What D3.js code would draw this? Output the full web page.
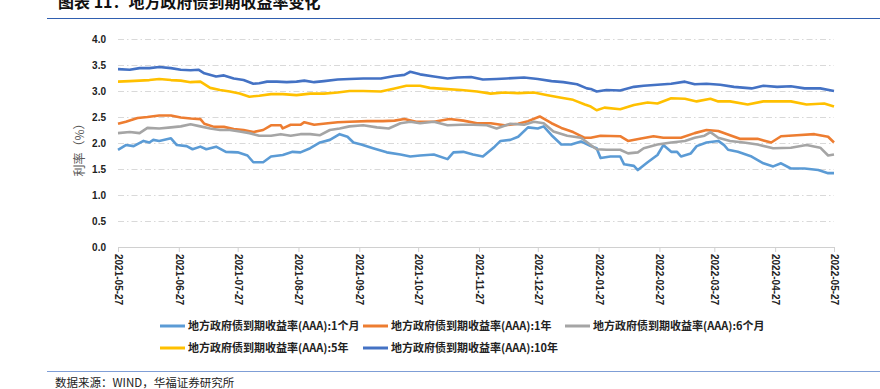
<!DOCTYPE html>
<html>
<head>
<meta charset="utf-8">
<script src="https://cdn.jsdelivr.net/npm/d3@7"></script>
<style>
body { margin: 0; background: #fff; }
svg { display: block; }
</style>
</head>
<body>
<svg id="chart"></svg>
<script>
const width = 880;
const height = 389;

// days counted from 2021-05-27, values in %
const startDate = new Date(2021, 4, 27);
const tickLabels = ['2021-05-27', '2021-06-27', '2021-07-27', '2021-08-27', '2021-09-27', '2021-10-27', '2021-11-27',
	'2021-12-27', '2022-01-27', '2022-02-27', '2022-03-27', '2022-04-27', '2022-05-27'];
const yTicks = [0, 0.5, 1, 1.5, 2, 2.5, 3, 3.5, 4];

const seriesNames = [
	'地方政府债到期收益率(AAA):1个月',
	'地方政府债到期收益率(AAA):1年',
	'地方政府债到期收益率(AAA):6个月',
	'地方政府债到期收益率(AAA):5年',
	'地方政府债到期收益率(AAA):10年'
];
const seriesColors = ['#5b9bd5', '#ed7d31', '#a5a5a5', '#ffc000', '#4472c4'];

const days1M = [0, 4, 8, 13, 16, 18, 21, 27, 30, 35, 38, 42, 45, 50, 55, 61, 66, 69, 74, 78, 84, 89, 93, 98, 103, 108, 113, 117,
	120, 124, 130, 137, 144, 149, 154, 161, 168, 171, 176, 181, 186, 192, 195, 200, 204, 209, 214, 217, 221, 226, 231, 236, 241,
	244, 246, 251, 256, 258, 263, 265, 270, 275, 278, 282, 285, 287, 292, 295, 300, 306, 309, 311, 316, 323, 329, 334, 338, 343,
	350, 357, 362, 365];
const vals1M = [1.87, 1.96, 1.94, 2.04, 2.01, 2.06, 2.04, 2.09, 1.96, 1.94, 1.88, 1.93, 1.88, 1.93, 1.83, 1.82, 1.76, 1.63, 1.63,
	1.74, 1.77, 1.83, 1.82, 1.90, 2.01, 2.06, 2.17, 2.12,
	2.01, 1.97, 1.90, 1.82, 1.78, 1.74, 1.76, 1.78, 1.69, 1.82, 1.83, 1.78, 1.74, 1.93, 2.04, 2.06, 2.12, 2.30, 2.28, 2.32,
	2.15, 1.97, 1.97, 2.03, 1.94,
	1.90, 1.71, 1.74, 1.74, 1.59, 1.56, 1.48, 1.63, 1.77, 1.96, 1.83, 1.83, 1.74, 1.80, 1.94, 2.01, 2.04, 1.96, 1.87, 1.83, 1.74,
	1.61, 1.55, 1.61, 1.51, 1.51, 1.48, 1.42, 1.42];

const days1Y = [0, 4, 10, 15, 21, 27, 32, 37, 42, 44, 49, 54, 59, 64, 69, 74, 78, 83, 84, 88, 93, 95, 100, 107, 112, 118,
	127, 135, 141, 146, 152, 161, 169, 176, 183, 190, 197, 204, 209, 215, 221, 226, 232, 238,
	241, 246, 256, 260, 266, 273, 278, 287, 294, 300, 306, 312, 317, 326, 333, 338, 346, 355, 362, 365];
const vals1Y = [2.37, 2.41, 2.48, 2.50, 2.53, 2.53, 2.49, 2.47, 2.46, 2.37, 2.31, 2.31, 2.27, 2.25, 2.21, 2.25, 2.34, 2.34, 2.28,
	2.35, 2.35, 2.40, 2.35, 2.38, 2.40, 2.41,
	2.42, 2.42, 2.43, 2.46, 2.41, 2.41, 2.46, 2.43, 2.38, 2.38, 2.34, 2.37, 2.42, 2.51, 2.38, 2.29, 2.21, 2.10,
	2.10, 2.14, 2.13, 2.04, 2.08, 2.13, 2.10, 2.10, 2.19, 2.25, 2.23, 2.15, 2.08, 2.08, 2.01, 2.13, 2.15, 2.17, 2.12, 2.01];

const days6M = [0, 6, 11, 15, 21, 27, 32, 37, 42, 47, 52, 57, 62, 67, 72, 78, 83, 88, 93, 98, 103, 108, 113, 118,
	125, 132, 138, 144, 149, 154, 161, 168, 175, 181, 188, 193, 200, 207, 212, 217, 222, 229, 236,
	241, 244, 249, 256, 260, 265, 268, 275, 282, 289, 294, 299, 302, 306, 312, 319, 326, 334, 343, 351, 358, 362, 365];
const vals6M = [2.19, 2.21, 2.19, 2.29, 2.28, 2.30, 2.32, 2.36, 2.32, 2.28, 2.25, 2.25, 2.22, 2.19, 2.14, 2.14, 2.17, 2.14, 2.17,
	2.17, 2.15, 2.25, 2.28, 2.32,
	2.34, 2.30, 2.28, 2.38, 2.41, 2.38, 2.41, 2.34, 2.35, 2.35, 2.34, 2.28, 2.37, 2.35, 2.41, 2.38, 2.22, 2.14, 2.10,
	1.96, 1.88, 1.87, 1.87, 1.80, 1.82, 1.90, 1.97, 2.01, 2.04, 2.10, 2.14, 2.21, 2.10, 2.04, 2.01, 1.97, 1.90, 1.91, 1.96, 1.91,
	1.76, 1.78];

const days5Y = [0, 6, 11, 16, 21, 27, 32, 37, 42, 47, 52, 57, 62, 67, 72, 78, 84, 91, 98, 105, 112, 118,
	125, 134, 141, 147, 154, 159, 166, 175, 183, 190, 197, 204, 212, 219, 226, 232, 238,
	241, 244, 248, 256, 263, 270, 275, 282, 289, 295, 302, 306, 312, 321, 329, 336, 343, 351, 360, 365];
const vals5Y = [3.18, 3.19, 3.20, 3.21, 3.23, 3.21, 3.20, 3.17, 3.18, 3.06, 3.02, 2.99, 2.95, 2.89, 2.91, 2.94, 2.94, 2.92, 2.95,
	2.95, 2.97, 3.00,
	3.00, 2.99, 3.05, 3.10, 3.10, 3.06, 3.04, 3.02, 2.99, 2.95, 2.97, 2.96, 2.97, 2.92, 2.87, 2.83, 2.74,
	2.70, 2.63, 2.68, 2.65, 2.73, 2.78, 2.76, 2.86, 2.85, 2.80, 2.85, 2.80, 2.80, 2.74, 2.80, 2.80, 2.80, 2.74, 2.76, 2.70];

const days10Y = [0, 6, 11, 16, 21, 27, 32, 37, 41, 44, 50, 54, 59, 64, 69, 72, 76, 81, 86, 91, 95, 100, 105, 112, 118,
	125, 134, 141, 146, 149, 154, 161, 168, 173, 180, 186, 193, 198, 207, 214, 221, 227, 234, 239,
	241, 244, 249, 256, 263, 268, 275, 282, 289, 294, 300, 307, 314, 323, 329, 336, 343, 350, 358, 365];
const vals10Y = [3.42, 3.41, 3.44, 3.44, 3.46, 3.44, 3.41, 3.40, 3.41, 3.34, 3.28, 3.30, 3.24, 3.21, 3.14, 3.15, 3.18, 3.18, 3.17,
	3.18, 3.20, 3.17, 3.19, 3.22, 3.23,
	3.24, 3.24, 3.29, 3.31, 3.37, 3.32, 3.28, 3.24, 3.26, 3.27, 3.22, 3.23, 3.24, 3.26, 3.23, 3.19, 3.17, 3.13, 3.05,
	3.04, 2.99, 3.02, 3.01, 3.08, 3.10, 3.12, 3.14, 3.18, 3.13, 3.14, 3.12, 3.08, 3.05, 3.10, 3.08, 3.09, 3.05, 3.05, 3.00];

const seriesDays = [days1M, days1Y, days6M, days5Y, days10Y];
const seriesVals = [vals1M, vals1Y, vals6M, vals5Y, vals10Y];

const cjk = '"Noto Sans CJK SC", sans-serif';
const num = '"Liberation Sans", Arial, sans-serif';

const svg = d3.select('#chart').attr('width', width).attr('height', height);

const plotLeft = 118, plotRight = 834, plotTop = 39, plotBottom = 247;

const parseTick = d3.timeParse('%Y-%m-%d');
const tickDates = tickLabels.map(parseTick);

const x = d3.scaleTime().domain([tickDates[0], tickDates[tickDates.length - 1]]).range([plotLeft, plotRight]);
const y = d3.scaleLinear().domain([0, 4]).range([plotBottom, plotTop]);

// header and footer
svg.append('text')
	.attr('x', 58).attr('y', 8)
	.attr('font-family', cjk).attr('font-size', 16).attr('font-weight', 'bold')
	.attr('fill', '#111')
	.text('图表 11：地方政府债到期收益率变化');

svg.append('line')
	.attr('x1', 47).attr('x2', width).attr('y1', 18.5).attr('y2', 18.5)
	.attr('stroke', '#2f5fb0').attr('stroke-width', 1.2);

svg.append('line')
	.attr('x1', 47).attr('x2', width).attr('y1', 371.5).attr('y2', 371.5)
	.attr('stroke', '#7f9ed6').attr('stroke-width', 1.2);

svg.append('text')
	.attr('x', 55).attr('y', 387)
	.attr('font-family', cjk).attr('font-size', 11.5)
	.attr('fill', '#222')
	.text('数据来源：WIND，华福证券研究所');

// y axis with grid
const yAxis = svg.append('g')
	.attr('transform', `translate(${plotLeft},0)`)
	.call(d3.axisLeft(y).tickValues(yTicks).tickSize(-(plotRight - plotLeft)).tickPadding(12).tickFormat(d3.format('.1f')));

yAxis.select('.domain').remove();
yAxis.selectAll('.tick line')
	.attr('stroke', '#d9d9d9')
	.attr('stroke-width', 1)
	.attr('stroke-dasharray', '6,3,1.5,3')
	.filter((d) => d === 0)
	.remove();
yAxis.selectAll('.tick text')
	.attr('font-family', num).attr('font-size', 10).attr('font-weight', 'bold')
	.attr('fill', '#222');

svg.append('text')
	.attr('transform', 'translate(84,147) rotate(-90)')
	.attr('text-anchor', 'middle')
	.attr('font-family', cjk).attr('font-size', 12)
	.attr('fill', '#595959')
	.text('利率（%）');

// x axis
const xAxis = svg.append('g')
	.attr('transform', `translate(0,${plotBottom})`)
	.call(d3.axisBottom(x).tickValues(tickDates).tickSize(5).tickFormat(d3.timeFormat('%Y-%m-%d')));

xAxis.select('.domain').attr('stroke', '#d0d0d0');
xAxis.selectAll('.tick line').attr('stroke', '#d0d0d0');
xAxis.selectAll('.tick text')
	.attr('transform', 'rotate(90)')
	.attr('x', 7).attr('y', 0).attr('dy', '0.35em')
	.attr('text-anchor', 'start')
	.attr('font-family', num).attr('font-size', 10).attr('font-weight', 'bold')
	.attr('fill', '#222');

// lines
const line = d3.line()
	.x((d) => x(d.date))
	.y((d) => y(d.value));

seriesNames.forEach((name, i) => {
	const points = seriesDays[i].map((d, j) => ({ date: d3.timeDay.offset(startDate, d), value: seriesVals[i][j] }));
	svg.append('path')
		.datum(points)
		.attr('fill', 'none')
		.attr('stroke', seriesColors[i])
		.attr('stroke-width', 2.6)
		.attr('stroke-linejoin', 'round')
		.attr('d', line);
});

// legend
const legendCols = [160, 363, 565];
const legend = svg.selectAll('.legend')
	.data(seriesNames)
	.enter()
	.append('g')
	.attr('class', 'legend')
	.attr('transform', (d, i) => `translate(${legendCols[i % 3]},${326 + 22 * Math.floor(i / 3)})`);

legend.append('line')
	.attr('x1', 0).attr('x2', 25)
	.attr('stroke', (d, i) => seriesColors[i])
	.attr('stroke-width', 3);

legend.append('text')
	.attr('x', 28).attr('dy', '0.35em')
	.attr('font-family', cjk).attr('font-size', 11).attr('font-weight', 'bold')
	.attr('fill', '#222')
	.text((d) => d);
</script>
</body>
</html>
